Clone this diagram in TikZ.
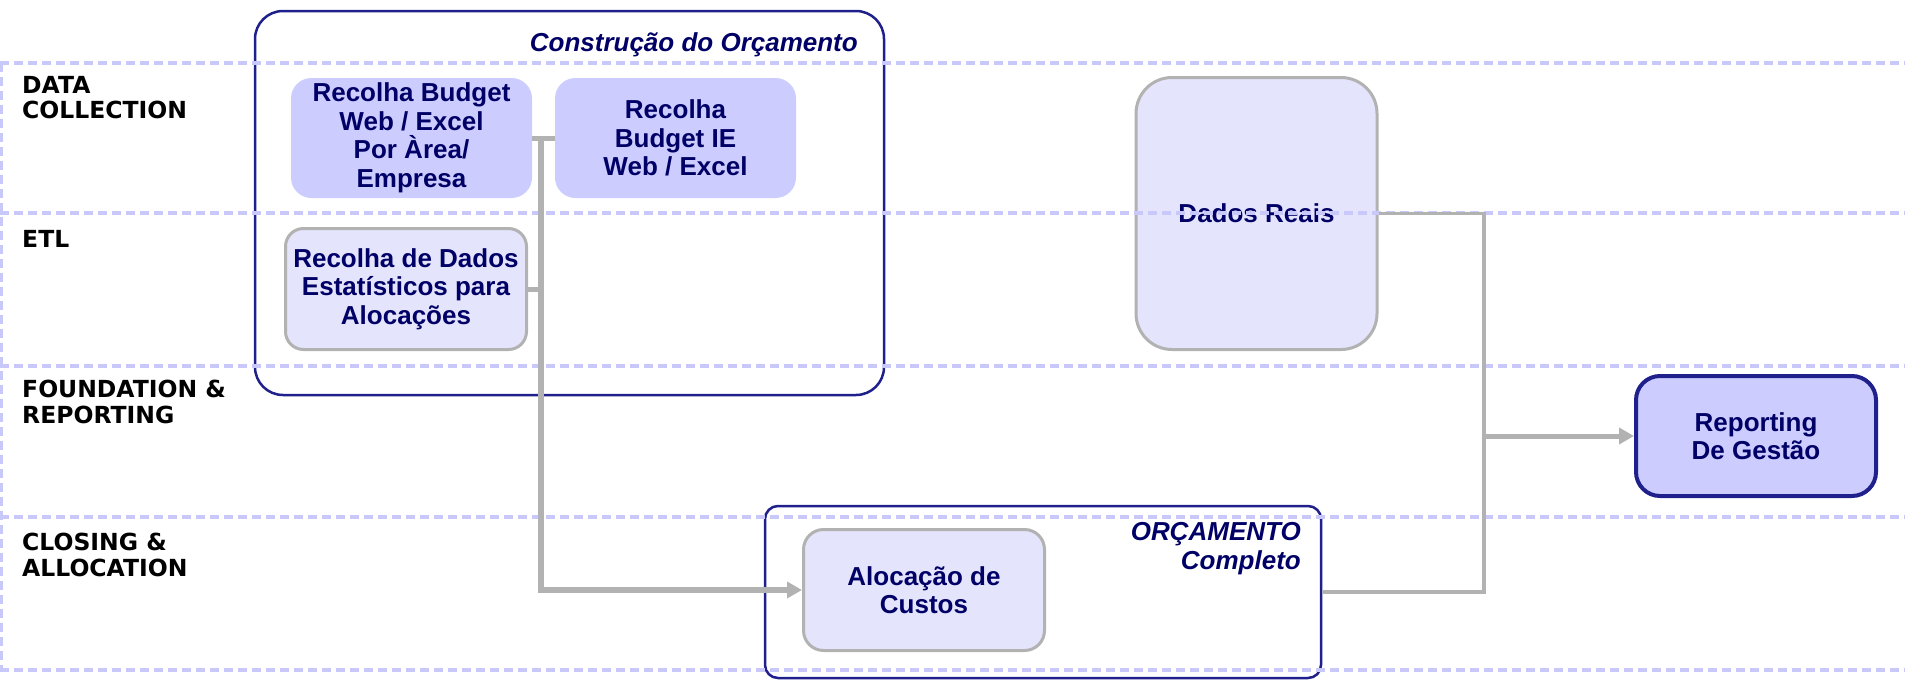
\documentclass[tikz,border=0pt]{standalone}
\usepackage{fontspec}
\setmainfont{Liberation Sans}
\newfontfamily\lanefont{DejaVu Sans}
\usetikzlibrary{arrows.meta}
\definecolor{navytxt}{RGB}{0,0,102}
\definecolor{navyline}{RGB}{32,32,140}
\definecolor{grayline}{RGB}{178,178,178}
\definecolor{fillA}{RGB}{204,204,255}
\definecolor{fillB}{RGB}{228,228,252}
\definecolor{lav}{RGB}{200,200,250}
\tikzset{
  lanelabel/.style={anchor=north west, inner sep=0pt, align=left, font=\lanefont\bfseries\fontsize{23.5}{25.5}\selectfont, text=black},
  boxtext/.style={align=center, text=navytxt, font=\bfseries\fontsize{26}{28.5}\selectfont, inner sep=0pt},
  darkbox/.style={boxtext, fill=fillA, draw=fillA, line width=1pt, rounded corners=20pt},
  lightbox/.style={boxtext, fill=fillB, draw=grayline, line width=3pt, rounded corners=20pt},
  groupbox/.style={draw=navyline, line width=2.5pt, inner sep=0pt},
  grouptitle/.style={text=navytxt, font=\bfseries\itshape\fontsize{26}{29}\selectfont, inner sep=0pt, align=right},
  laneline/.style={draw=lav, line width=3.5pt, dash pattern=on 9pt off 5pt},
  conn/.style={draw=grayline, line width=5pt},
  thinconn/.style={draw=grayline, line width=3.5pt},
  arr/.style={-{Triangle[length=15pt,width=16pt]}},
}
\begin{document}
\begin{tikzpicture}[x=1pt,y=-1pt]
\useasboundingbox (0,0) rectangle (1905,680);
% lane labels
\node[lanelabel] (lDC) at (22,76) {DATA\\COLLECTION};
\node[lanelabel] (lETL) at (22,230) {ETL};
\node[lanelabel] (lFR) at (22,380) {FOUNDATION \&\\REPORTING};
\node[lanelabel] (lCA) at (22,533) {CLOSING \&\\ALLOCATION};
% group boxes
\node[groupbox, rounded corners=28pt, minimum width=629pt, minimum height=384pt] (CB) at (569.5,203) {};
\node[grouptitle, anchor=base east] (CBt) at (858,51) {Construção do Orçamento};
\node[groupbox, line width=2.5pt, rounded corners=13pt, minimum width=556pt, minimum height=172pt] (ORC) at (1043,592) {};
\node[grouptitle, anchor=north east] (ORCt) at (1301,522) {ORÇAMENTO\\Completo};
% process boxes
\node[darkbox, minimum width=240pt, minimum height=119pt] (RB) at (411.5,138) {Recolha Budget\\Web / Excel\\Por Àrea/\\Empresa};
\node[darkbox, minimum width=240pt, minimum height=119pt] (IE) at (675.5,138) {Recolha\\Budget IE\\Web / Excel};
\node[lightbox, rounded corners=18pt, minimum width=241pt, minimum height=121pt] (Est) at (406,289) {Recolha de Dados\\Estatísticos para\\Alocações};
\node[lightbox, rounded corners=36pt, minimum width=241pt, minimum height=272pt] (DR) at (1256.5,213.5) {Dados Reais};
\node[lightbox, minimum width=241pt, minimum height=121pt] (AL) at (924,590) {Alocação de\\Custos};
\node[darkbox, draw=navyline, line width=4pt, rounded corners=24pt, minimum width=240pt, minimum height=120pt] (REP) at (1756,436) {Reporting\\De Gestão};
% lane separators
\foreach \yy in {63,213,366,517,670} {\draw[laneline] (0,\yy) -- (1905,\yy);}
\draw[laneline] (1.5,63) -- (1.5,670);
% connectors
\coordinate (jL) at (541,138);
\coordinate (jR) at (1484,436);
\draw[conn] (RB.east) -- (IE.west);
\draw[conn] (Est.east) -- (Est.east -| jL);
\draw[conn, line width=6pt, arr] (jL) |- (AL.west);
\draw[thinconn] (DR.east) -| (jR);
\draw[thinconn] (jR) |- (ORC.east);
\draw[conn, arr] (jR) -- (REP.west);
\end{tikzpicture}
\end{document}
